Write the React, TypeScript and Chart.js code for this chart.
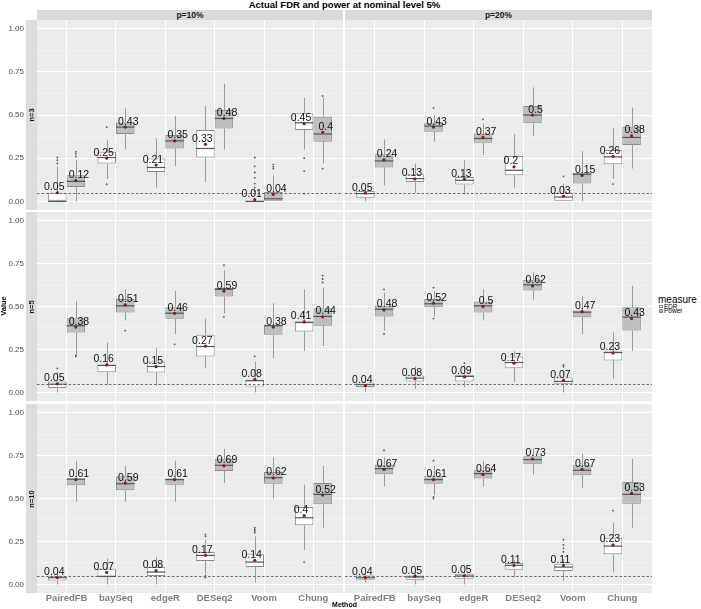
import React, { useEffect, useRef } from 'react';
import { Chart, registerables } from 'chart.js';
Chart.register(...registerables);

const methods = ['PairedFB', 'baySeq', 'edgeR', 'DESeq2', 'Voom', 'Chung'];
const measures = ['FDR', 'Power'];
const rowLabels = ['n=3', 'n=5', 'n=10'];
const colLabels = ['p=10%', 'p=20%'];
const yTickValues = [0, 0.125, 0.25, 0.375, 0.5, 0.625, 0.75, 0.875, 1];
const nominalLevel = 0.05;
const titleText = 'Actual FDR and power at nominal level 5%';

// Box summaries per method: [lower whisker, q1, median, q3, upper whisker]
// ---- n=3, p=10%
const n3p10FDR = [[0, 0, 0, 0.05, 0.2], [0.13, 0.219, 0.254, 0.287, 0.355], [0.08, 0.17, 0.196, 0.248, 0.364], [0.112, 0.254, 0.306, 0.413, 0.552], [0, 0, 0, 0, 0], [0.3, 0.413, 0.455, 0.51, 0.6]];
const n3p10FDRMean = [0.05, 0.25, 0.21, 0.33, 0.01, 0.45];
const n3p10FDROut = [[0.22, 0.238, 0.254], [0.43, 0.099], [], [], [0.06, 0.08, 0.103, 0.136, 0.167, 0.203, 0.254], [0.25, 0.175, 0.045]];
const n3p10Pow = [[0, 0.083, 0.116, 0.151, 0.24], [0.3, 0.39, 0.43, 0.457, 0.539], [0.205, 0.306, 0.35, 0.384, 0.494], [0.3, 0.422, 0.48, 0.529, 0.68], [0, 0, 0.015, 0.054, 0.151], [0.22, 0.345, 0.39, 0.49, 0.6]];
const n3p10PowMean = [0.12, 0.43, 0.35, 0.48, 0.04, 0.4];
const n3p10PowOut = [[0.26, 0.275, 0.287], [], [], [], [0.19, 0.2, 0.213], [0.19, 0.61]];
// ---- n=3, p=20%
const n3p20FDR = [[0, 0.021, 0.045, 0.06, 0.08], [0.05, 0.112, 0.132, 0.157, 0.219], [0.039, 0.097, 0.122, 0.141, 0.238], [0.08, 0.151, 0.18, 0.262, 0.39], [0, 0, 0.025, 0.05, 0.103], [0.13, 0.215, 0.258, 0.297, 0.422]];
const n3p20FDRMean = [0.048, 0.13, 0.128, 0.2, 0.03, 0.26];
const n3p20FDROut = [[], [], [], [], [0.145], [0.1]];
const n3p20Pow = [[0.093, 0.196, 0.234, 0.273, 0.358], [0.345, 0.403, 0.436, 0.455, 0.5], [0.27, 0.339, 0.364, 0.393, 0.45], [0.38, 0.452, 0.5, 0.552, 0.66], [0, 0.103, 0.157, 0.165, 0.29], [0.19, 0.326, 0.37, 0.432, 0.543]];
const n3p20PowMean = [0.24, 0.43, 0.37, 0.5, 0.15, 0.38];
const n3p20PowOut = [[], [0.54], [0.475], [], [], []];
// ---- n=5, p=10%
const n5p10FDR = [[0, 0.025, 0.048, 0.064, 0.12], [0.04, 0.118, 0.157, 0.161, 0.29], [0.04, 0.116, 0.151, 0.18, 0.26], [0.14, 0.209, 0.267, 0.335, 0.43], [0, 0.035, 0.068, 0.074, 0.18], [0.24, 0.355, 0.407, 0.413, 0.6]];
const n5p10FDRMean = [0.05, 0.16, 0.15, 0.27, 0.075, 0.41];
const n5p10FDROut = [[0.14], [], [], [], [0.21], []];
const n5p10Pow = [[0.22, 0.349, 0.388, 0.432, 0.53], [0.42, 0.465, 0.504, 0.543, 0.6], [0.34, 0.428, 0.461, 0.496, 0.59], [0.46, 0.558, 0.6, 0.607, 0.71], [0.2, 0.335, 0.388, 0.393, 0.52], [0.27, 0.388, 0.442, 0.49, 0.61]];
const n5p10PowMean = [0.38, 0.51, 0.46, 0.59, 0.38, 0.44];
const n5p10PowOut = [[0.21, 0.215], [0.36], [0.28], [0.74, 0.44], [], [0.64, 0.66, 0.68]];
// ---- n=5, p=20%
const n5p20FDR = [[0, 0.031, 0.045, 0.058, 0.075], [0.02, 0.064, 0.083, 0.099, 0.15], [0.03, 0.064, 0.093, 0.103, 0.16], [0.06, 0.141, 0.174, 0.209, 0.24], [0, 0.05, 0.064, 0.087, 0.12], [0.08, 0.186, 0.232, 0.238, 0.35]];
const n5p20FDRMean = [0.04, 0.08, 0.09, 0.17, 0.07, 0.23];
const n5p20FDROut = [[], [], [0.17], [], [0.15, 0.16], []];
const n5p20Pow = [[0.36, 0.442, 0.484, 0.504, 0.58], [0.44, 0.496, 0.516, 0.543, 0.59], [0.42, 0.465, 0.504, 0.529, 0.6], [0.54, 0.593, 0.626, 0.655, 0.7], [0.34, 0.438, 0.467, 0.477, 0.56], [0.24, 0.36, 0.438, 0.496, 0.62]];
const n5p20PowMean = [0.48, 0.52, 0.5, 0.62, 0.47, 0.43];
const n5p20PowOut = [[0.6, 0.34], [0.61, 0.43], [], [], [], []];
// ---- n=10, p=10%
const n10p10FDR = [[0, 0.023, 0.039, 0.047, 0.07], [0, 0.043, 0.047, 0.091, 0.15], [0, 0.049, 0.072, 0.101, 0.16], [0.06, 0.136, 0.169, 0.188, 0.26], [0.01, 0.101, 0.13, 0.175, 0.28], [0.2, 0.344, 0.388, 0.45, 0.58]];
const n10p10FDRMean = [0.04, 0.07, 0.08, 0.17, 0.14, 0.4];
const n10p10FDROut = [[], [], [], [0.28, 0.29, 0.04, 0.05], [0.3, 0.31, 0.32, 0.33], [0.13]];
const n10p10Pow = [[0.48, 0.577, 0.612, 0.616, 0.72], [0.48, 0.548, 0.586, 0.629, 0.69], [0.48, 0.58, 0.61, 0.616, 0.72], [0.59, 0.66, 0.693, 0.732, 0.79], [0.5, 0.586, 0.621, 0.654, 0.74], [0.33, 0.466, 0.524, 0.59, 0.69]];
const n10p10PowMean = [0.61, 0.59, 0.61, 0.69, 0.62, 0.52];
const n10p10PowOut = [[], [], [], [], [], []];
// ---- n=10, p=20%
const n10p20FDR = [[0.01, 0.027, 0.039, 0.052, 0.065], [0, 0.027, 0.043, 0.052, 0.07], [0, 0.033, 0.049, 0.062, 0.08], [0.04, 0.085, 0.111, 0.124, 0.14], [0.02, 0.078, 0.101, 0.12, 0.15], [0.07, 0.175, 0.223, 0.272, 0.36]];
const n10p20FDRMean = [0.04, 0.048, 0.05, 0.11, 0.11, 0.23];
const n10p20FDROut = [[], [], [], [], [0.19, 0.21, 0.23, 0.26], [0.43]];
const n10p20Pow = [[0.57, 0.641, 0.674, 0.697, 0.74], [0.52, 0.586, 0.61, 0.629, 0.69], [0.57, 0.616, 0.645, 0.668, 0.72], [0.64, 0.699, 0.726, 0.746, 0.79], [0.56, 0.635, 0.664, 0.693, 0.76], [0.33, 0.47, 0.524, 0.596, 0.73]];
const n10p20PowMean = [0.67, 0.61, 0.64, 0.73, 0.67, 0.53];
const n10p20PowOut = [[0.78], [0.72, 0.5, 0.51], [], [], [], []];

const FONT = '"Liberation Sans", Arial, Helvetica, sans-serif';
const isMajor = (v: number) => Math.abs(v * 4 - Math.round(v * 4)) < 1e-6;
const fmt = (m: number) => String(Math.round(m * 100) / 100);

const panels = [
  { row: 0, col: 0, boxes: [n3p10FDR, n3p10Pow], means: [n3p10FDRMean, n3p10PowMean], outs: [n3p10FDROut, n3p10PowOut] },
  { row: 0, col: 1, boxes: [n3p20FDR, n3p20Pow], means: [n3p20FDRMean, n3p20PowMean], outs: [n3p20FDROut, n3p20PowOut] },
  { row: 1, col: 0, boxes: [n5p10FDR, n5p10Pow], means: [n5p10FDRMean, n5p10PowMean], outs: [n5p10FDROut, n5p10PowOut] },
  { row: 1, col: 1, boxes: [n5p20FDR, n5p20Pow], means: [n5p20FDRMean, n5p20PowMean], outs: [n5p20FDROut, n5p20PowOut] },
  { row: 2, col: 0, boxes: [n10p10FDR, n10p10Pow], means: [n10p10FDRMean, n10p10PowMean], outs: [n10p10FDROut, n10p10PowOut] },
  { row: 2, col: 1, boxes: [n10p20FDR, n10p20Pow], means: [n10p20FDRMean, n10p20PowMean], outs: [n10p20FDROut, n10p20PowOut] },
];

const colGeom = [{ left: 37, width: 306 }, { left: 345, width: 307 }];
const rowGeom = [{ top: 20, height: 190 }, { top: 212, height: 189 }, { top: 404, height: 189 }];
const Y_AXIS_W = 37;
const X_AXIS_H = 16;
const fillColors = ['#FFFFFF', '#BEBEBE'];

function makePlugin(boxes: number[][][], means: number[][], outs: number[][][]) {
  return {
    id: 'ggBox',
    beforeDraw(chart: any) {
      const { ctx, chartArea: a } = chart;
      ctx.save();
      ctx.fillStyle = '#EBEBEB';
      ctx.fillRect(a.left, a.top, a.right - a.left, a.bottom - a.top);
      ctx.restore();
    },
    beforeDatasetsDraw(chart: any) {
      const { ctx } = chart;
      const y = chart.scales.y;
      ctx.save();
      ctx.strokeStyle = '#9A9A9A';
      ctx.lineWidth = 1;
      boxes.forEach((set, d) => {
        const meta = chart.getDatasetMeta(d);
        set.forEach((b, i) => {
          const el = meta.data[i];
          const x = Math.round(el.x) + 0.5;
          ctx.beginPath();
          ctx.moveTo(x, y.getPixelForValue(b[0]));
          ctx.lineTo(x, y.getPixelForValue(b[1]));
          ctx.moveTo(x, y.getPixelForValue(b[3]));
          ctx.lineTo(x, y.getPixelForValue(b[4]));
          ctx.stroke();
        });
      });
      ctx.restore();
    },
    afterDatasetsDraw(chart: any) {
      const { ctx, chartArea: a } = chart;
      const y = chart.scales.y;
      const xs = chart.scales.x;
      const catW = xs.getPixelForValue(1) - xs.getPixelForValue(0);
      ctx.save();
      // medians
      boxes.forEach((set, d) => {
        const meta = chart.getDatasetMeta(d);
        set.forEach((b, i) => {
          const el = meta.data[i];
          const py = y.getPixelForValue(b[2]);
          ctx.strokeStyle = '#555555';
          ctx.lineWidth = 1.2;
          ctx.beginPath();
          ctx.moveTo(el.x - el.width / 2, py);
          ctx.lineTo(el.x + el.width / 2, py);
          ctx.stroke();
        });
      });
      // outliers
      ctx.fillStyle = '#555555';
      outs.forEach((set, d) => {
        const meta = chart.getDatasetMeta(d);
        set.forEach((list, i) => {
          const el = meta.data[i];
          list.forEach((v) => {
            ctx.beginPath();
            ctx.arc(el.x, y.getPixelForValue(v), 0.9, 0, Math.PI * 2);
            ctx.fill();
          });
        });
      });
      // nominal level line
      const hy = Math.round(y.getPixelForValue(nominalLevel)) + 0.5;
      ctx.strokeStyle = '#505050';
      ctx.lineWidth = 0.8;
      ctx.setLineDash([2.5, 2]);
      ctx.beginPath();
      ctx.moveTo(a.left, hy);
      ctx.lineTo(a.right, hy);
      ctx.stroke();
      ctx.setLineDash([]);
      // means
      ctx.fillStyle = '#8B1A1A';
      means.forEach((set, d) => {
        const meta = chart.getDatasetMeta(d);
        set.forEach((m, i) => {
          const el = meta.data[i];
          ctx.beginPath();
          ctx.arc(el.x, y.getPixelForValue(m), 1.6, 0, Math.PI * 2);
          ctx.fill();
        });
      });
      // labels
      ctx.fillStyle = '#111111';
      ctx.font = `10.5px ${FONT}`;
      ctx.textAlign = 'center';
      ctx.textBaseline = 'alphabetic';
      means.forEach((set, d) => {
        set.forEach((m, i) => {
          const cx = xs.getPixelForValue(i) + (d === 0 ? -0.25 : 0.25) * catW;
          ctx.fillText(fmt(m), cx, y.getPixelForValue(m) - 2.5);
        });
      });
      ctx.restore();
    },
  };
}

function Panel({ p }: { p: any }) {
  const ref = useRef<HTMLCanvasElement>(null);
  const showY = p.col === 0;
  const showX = p.row === 2;
  const cg = colGeom[p.col];
  const rg = rowGeom[p.row];
  const left = showY ? cg.left - Y_AXIS_W : cg.left;
  const width = showY ? cg.width + Y_AXIS_W : cg.width;
  const height = showX ? rg.height + X_AXIS_H : rg.height;

  useEffect(() => {
    if (!ref.current) return;
    const zeroPad = (s: any) => {
      s.paddingTop = 0;
      s.paddingBottom = 0;
      s.paddingLeft = 0;
      s.paddingRight = 0;
    };
    const chart = new Chart(ref.current, {
      type: 'bar',
      data: {
        datasets: measures.map((m, d) => ({
          label: m,
          data: p.boxes[d].map((b: number[], i: number) => ({ x: i, y: [b[1], b[3]] })),
          backgroundColor: fillColors[d],
          borderColor: '#8C8C8C',
          borderWidth: 1,
          borderSkipped: false,
          categoryPercentage: 0.75,
          barPercentage: 1,
        })),
      },
      options: {
        animation: false,
        responsive: false,
        maintainAspectRatio: false,
        layout: { padding: 0 },
        events: [],
        plugins: { legend: { display: false }, tooltip: { enabled: false }, title: { display: false } },
        scales: {
          x: {
            type: 'linear',
            min: -0.6,
            max: 5.6,
            offset: false,
            afterBuildTicks: (s: any) => {
              s.ticks = methods.map((_, i) => ({ value: i }));
            },
            grid: { offset: false, color: '#FFFFFF', lineWidth: 1, drawTicks: false },
            border: { display: false },
            ticks: {
              display: showX,
              padding: 0,
              autoSkip: false,
              maxRotation: 0,
              color: '#7F7F7F',
              font: { family: FONT, size: 9.5, weight: 'bold' },
              callback: (v: any) => methods[Math.round(Number(v))] ?? '',
            },
            afterFit: (s: any) => {
              s.height = showX ? X_AXIS_H : 0;
              zeroPad(s);
            },
          },
          y: {
            type: 'linear',
            min: -0.05,
            max: 1.05,
            afterBuildTicks: (s: any) => {
              s.ticks = yTickValues.map((v) => ({ value: v }));
            },
            grid: {
              drawTicks: false,
              color: (c: any) => (isMajor(c.tick.value) ? '#FFFFFF' : '#F5F5F5'),
              lineWidth: (c: any) => (isMajor(c.tick.value) ? 1 : 0.6),
            },
            border: { display: false },
            ticks: {
              display: showY,
              padding: 13,
              autoSkip: false,
              color: '#4D4D4D',
              font: { family: FONT, size: 8 },
              callback: (v: any) => (isMajor(Number(v)) ? Number(v).toFixed(2) : ''),
            },
            afterFit: (s: any) => {
              s.width = showY ? Y_AXIS_W : 0;
              zeroPad(s);
            },
          },
        },
      } as any,
      plugins: [makePlugin(p.boxes, p.means, p.outs)],
    });
    return () => chart.destroy();
  }, []);

  return (
    <canvas
      ref={ref}
      width={width}
      height={height}
      style={{ position: 'absolute', left, top: rg.top, width, height }}
    />
  );
}

export default function App() {
  const txt: React.CSSProperties = { position: 'absolute', fontFamily: FONT, whiteSpace: 'nowrap' };
  return (
    <div style={{ position: 'absolute', left: 0, top: 0, width: 701, height: 609, overflow: 'hidden', background: '#FFFFFF' }}>
      {panels.map((p, k) => (
        <Panel key={k} p={p} />
      ))}
      <div style={{ ...txt, left: 37, width: 615, top: -0.5, lineHeight: '9px', fontSize: 9.5, fontWeight: 'bold', textAlign: 'center', color: '#000' }}>
        {titleText}
      </div>
      {colLabels.map((c, i) => (
        <div
          key={c}
          style={{ ...txt, left: colGeom[i].left, width: colGeom[i].width, top: 10, height: 10, lineHeight: '10px', background: '#D9D9D9', fontSize: 8.5, fontWeight: 'bold', textAlign: 'center', color: '#1A1A1A' }}
        >
          {c}
        </div>
      ))}
      {rowLabels.map((r, i) => (
        <div
          key={r}
          style={{ position: 'absolute', left: 26, width: 11, top: rowGeom[i].top, height: rowGeom[i].height, background: '#DCDCDC' }}
        >
          <span
            style={{ ...txt, left: '50%', top: '50%', transform: 'translate(-50%, -50%) rotate(-90deg)', fontSize: 7.5, fontWeight: 'bold', color: '#1A1A1A', lineHeight: '8px' }}
          >
            {r}
          </span>
        </div>
      ))}
      <span style={{ ...txt, left: 3.5, top: 306, transform: 'translate(-50%, -50%) rotate(-90deg)', fontSize: 7.5, fontWeight: 'bold', color: '#000', lineHeight: '8px' }}>
        Value
      </span>
      <div style={{ ...txt, left: 37, width: 615, top: 601, lineHeight: '7px', fontSize: 7, fontWeight: 'bold', textAlign: 'center', color: '#000' }}>
        Method
      </div>
      <div style={{ ...txt, left: 658, top: 294.5, lineHeight: '10px', fontSize: 10, color: '#000' }}>measure</div>
      {measures.map((m, i) => (
        <React.Fragment key={m}>
          <div
            style={{ position: 'absolute', left: 659, top: 304.5 + i * 4.5, width: 3.5, height: 3.5, boxSizing: 'border-box', background: fillColors[i], border: '0.6px solid #8C8C8C' }}
          />
          <div style={{ ...txt, left: 664, top: 302.8 + i * 4.5, lineHeight: '7px', fontSize: 6.5, color: '#000' }}>{m}</div>
        </React.Fragment>
      ))}
    </div>
  );
}
